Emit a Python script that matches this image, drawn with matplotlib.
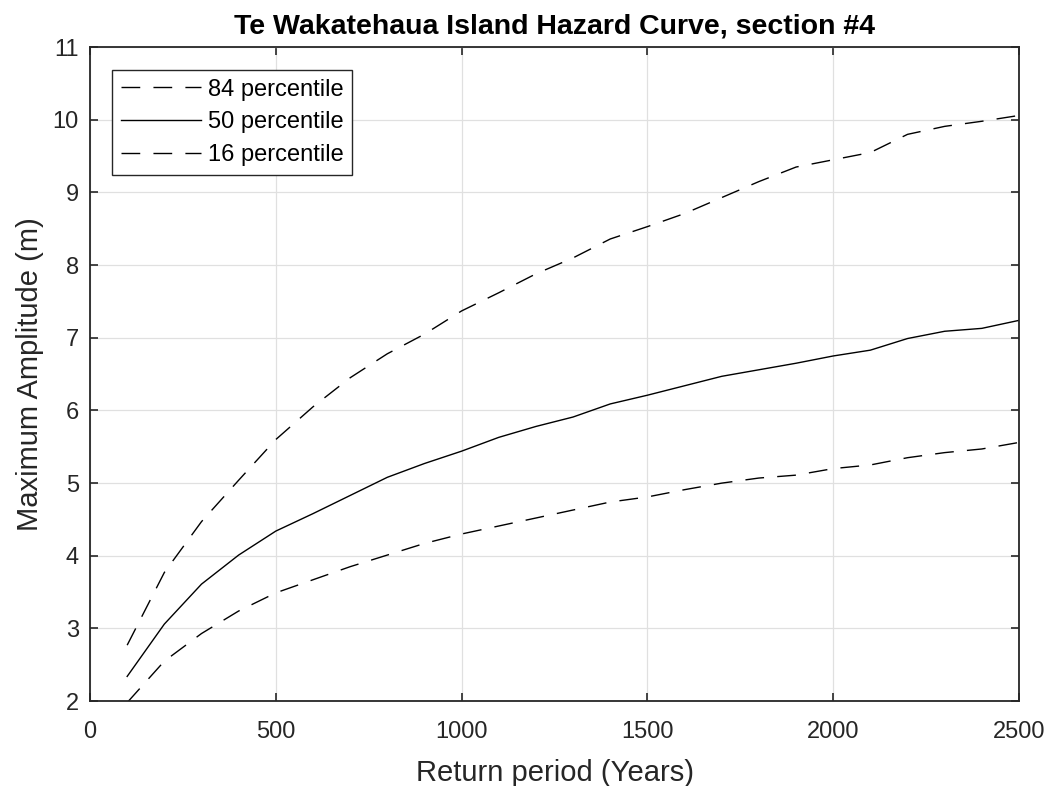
import matplotlib.pyplot as plt

# return periods and percentile curves
years = [100, 200, 300, 400, 500, 600, 700, 800, 900, 1000, 1100, 1200, 1300,
         1400, 1500, 1600, 1700, 1800, 1900, 2000, 2100, 2200, 2300, 2400, 2500]
p84 = [2.77, 3.77, 4.47, 5.04, 5.60, 6.05, 6.45, 6.78, 7.05, 7.37, 7.62, 7.88, 8.10,
       8.36, 8.53, 8.71, 8.93, 9.15, 9.35, 9.45, 9.55, 9.80, 9.91, 9.98, 10.06]
p50 = [2.34, 3.06, 3.61, 4.01, 4.34, 4.58, 4.83, 5.08, 5.27, 5.44, 5.63, 5.78, 5.91,
       6.09, 6.21, 6.34, 6.47, 6.56, 6.65, 6.75, 6.83, 6.99, 7.09, 7.13, 7.24]
p16 = [1.98, 2.55, 2.93, 3.24, 3.49, 3.67, 3.85, 4.01, 4.17, 4.30, 4.41, 4.52, 4.63,
       4.74, 4.81, 4.91, 5.00, 5.07, 5.11, 5.20, 5.25, 5.35, 5.42, 5.47, 5.56]

plt.rcParams['font.family'] = ['Liberation Sans', 'DejaVu Sans']

fig = plt.figure(figsize=(10.54, 7.86), dpi=100)
ax = fig.add_axes([0.0854, 0.108, 0.8814, 0.832])

dash = (0, (13.5, 9.5))
ax.plot(years, p84, color='k', lw=1, linestyle=dash, label='84 percentile')
ax.plot(years, p50, color='k', lw=1, label='50 percentile')
ax.plot(years, p16, color='k', lw=1, linestyle=dash, label='16 percentile')

ax.set_xlim(0, 2500)
ax.set_ylim(2, 11)
ax.set_xticks([0, 500, 1000, 1500, 2000, 2500])
ax.set_yticks(range(2, 12))
ax.grid(True, color='#e0e0e0', lw=0.9)
ax.set_axisbelow(True)
ax.tick_params(direction='in', length=6, width=1.2, labelsize=17, colors='#262626',
               top=True, right=True)
ax.tick_params(axis='x', pad=14)
ax.tick_params(axis='y', pad=8)
for s in ax.spines.values():
    s.set_color('#262626')
    s.set_linewidth(1.3)

ax.set_xlabel('Return period (Years)', fontsize=21, color='#262626', labelpad=12)
ax.set_ylabel('Maximum Amplitude (m)', fontsize=21, color='#262626', labelpad=6)
ax.set_title('Te Wakatehaua Island Hazard Curve, section #4', fontsize=20.5,
             fontweight='bold', pad=10)

leg = ax.legend(loc='upper left', fontsize=17, fancybox=False, framealpha=1,
                edgecolor='#262626', handlelength=3.35, borderaxespad=0.95,
                borderpad=0.38, labelspacing=0.45, handletextpad=0.3)
leg.get_frame().set_linewidth(1)

fig.savefig('out.png', dpi=100)
